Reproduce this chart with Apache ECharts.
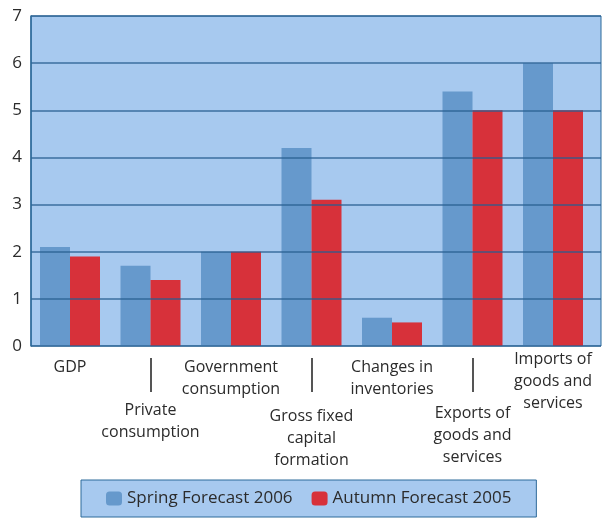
<!DOCTYPE html>
<html>
<head>
<meta charset="utf-8">
<script src="https://cdn.jsdelivr.net/npm/echarts@6/dist/echarts.min.js"></script>
<style>
  html, body { margin: 0; padding: 0; background: #fff; }
  #main { width: 603px; height: 524px; }
</style>
</head>
<body>
<div id="main"></div>
<script>
// chart data
var categories = ['GDP', 'Private\nconsumption', 'Government\nconsumption',
  'Gross fixed\ncapital\nformation', 'Changes in\ninventories',
  'Exports of\ngoods and\nservices', 'Imports of\ngoods and\nservices'];
var spring2006 = [2.1, 1.7, 2.0, 4.2, 0.6, 5.4, 6.0];
var autumn2005 = [1.9, 1.4, 2.0, 3.1, 0.5, 5.0, 5.0];
var yTicks = [0, 1, 2, 3, 4, 5, 6, 7];

// staggered labels: extra top padding per category
var labelPad = [8, 51, 8, 57, 8, 54, 0];

var font = '"Open Sans", "Noto Sans", sans-serif';
var plotBg = '#a7c9ef';
var darkBlue = '#2d6a9a';

var chart = echarts.init(document.getElementById('main'));

var option = {
  animation: false,
  backgroundColor: '#ffffff',
  textStyle: { fontFamily: font },
  legend: {
    left: 81, top: 480,
    padding: [10, 25, 10, 25],
    itemWidth: 16, itemHeight: 14, itemGap: 19,
    backgroundColor: plotBg,
    borderColor: darkBlue, borderWidth: 1,
    textStyle: { fontFamily: font, fontSize: 17, color: '#2b2b2b', lineHeight: 14 },
    data: ['Spring Forecast 2006', 'Autumn Forecast 2005']
  },
  grid: [
    { left: 31, right: 2, top: 16, bottom: 178, show: true, backgroundColor: plotBg,
      borderColor: darkBlue, borderWidth: 1 },
    { left: 29.75, width: 563.5, top: 16, bottom: 178 }
  ],
  xAxis: [
    { gridIndex: 0, type: 'category', data: categories, show: false },
    { gridIndex: 1, type: 'category', data: categories.map(function (c, i) {
        return { value: c, textStyle: { padding: [labelPad[i], 0, 0, 0] } };
      }),
      axisLine: { show: false }, axisTick: { show: false },
      axisLabel: { interval: 0, margin: 2, fontSize: 16, lineHeight: 22, color: '#2b2b2b',
        fontFamily: font, verticalAlign: 'top', hideOverlap: false } },
    { gridIndex: 1, type: 'category', data: categories, position: 'bottom', offset: 12,
      axisLine: { show: false }, axisLabel: { show: false },
      axisTick: { show: true, alignWithLabel: true, length: 34,
        interval: function (i) { return i % 2 === 1; },
        lineStyle: { color: '#555', width: 2 } } }
  ],
  yAxis: [
    { gridIndex: 0, type: 'value', min: yTicks[0], max: yTicks[yTicks.length - 1], interval: 1, z: 5,
      axisLine: { show: true, lineStyle: { color: darkBlue, width: 1.5 } },
      axisTick: { show: false },
      axisLabel: { fontSize: 17, color: '#2b2b2b', margin: 9, fontFamily: font },
      splitLine: { show: true, lineStyle: { color: 'rgba(40,95,145,0.85)', width: 1.5 } } },
    { gridIndex: 1, type: 'value', min: 0, max: 7, interval: 1, show: false }
  ],
  series: [
    { name: 'Spring Forecast 2006', type: 'bar', xAxisIndex: 1, yAxisIndex: 1,
      data: spring2006, barWidth: 30, barGap: 0, itemStyle: { color: '#6699cc' } },
    { name: 'Autumn Forecast 2005', type: 'bar', xAxisIndex: 1, yAxisIndex: 1,
      data: autumn2005, barWidth: 30, barGap: 0, itemStyle: { color: '#d7313a' } }
  ]
};

chart.setOption(option);
</script>
</body>
</html>
